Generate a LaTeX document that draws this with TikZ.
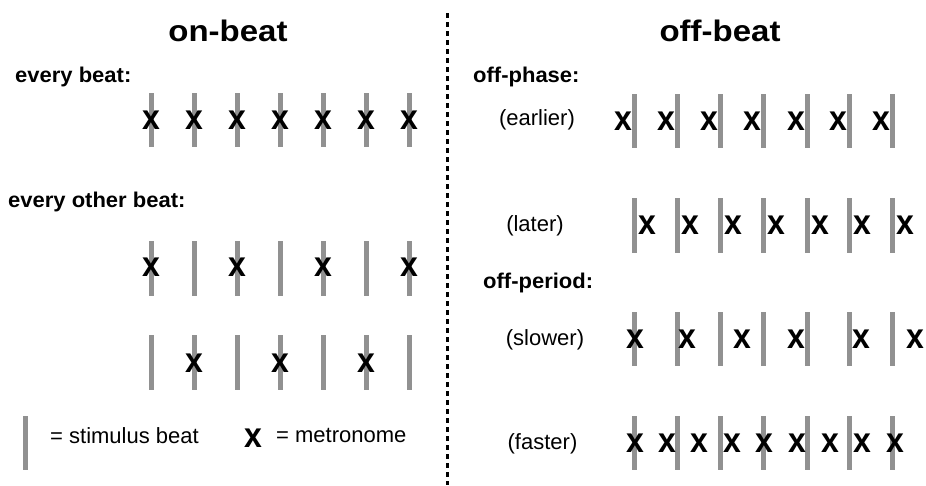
\documentclass[tikz,border=0pt]{standalone}
\usepackage{fontspec}
\setmainfont{Liberation Sans}
\definecolor{bargray}{RGB}{145,145,145}
\tikzset{
  stim/.style={draw=bargray, line width=5pt},
  metro/.style={inner sep=0pt, font=\fontsize{32}{34}\selectfont\bfseries, yscale=1.1},
  bigtitle/.style={inner sep=0pt, font=\fontsize{33}{36}\selectfont\bfseries, yscale=0.9, anchor=base},
  head/.style={inner sep=0pt, font=\fontsize{22}{26}\selectfont\bfseries, yscale=0.97, anchor=base west},
  lab/.style={inner sep=0pt, font=\fontsize{22}{26}\selectfont, anchor=center},
  leg/.style={inner sep=0pt, font=\fontsize{22}{26}\selectfont, anchor=base west},
  divider/.style={draw=black, line width=3pt, dash pattern=on 5pt off 4pt},
}
\begin{document}
\begin{tikzpicture}[x=1pt,y=-1pt]
\useasboundingbox (0,0) rectangle (926,485);

% titles
\node[bigtitle] (ton) at (228,41.5) {on-beat};
\node[bigtitle] (toff) at (720,41.5) {off-beat};

% divider
\coordinate (dtop) at (447,13);
\coordinate (dbot) at (447,485);
\draw[divider] (dtop) -- (dbot);

% headings
\node[head] (h1) at (15,82) {every beat:};
\node[head] (h2) at (8,207) {every other beat:};
\node[head] (h3) at (473,82) {off-phase:};
\node[head] (h4) at (483,288) {off-period:};

% sub labels
\node[lab] (l1) at (537,120) {(earlier)};
\node[lab] (l2) at (535,226) {(later)};
\node[lab] (l3) at (545,340) {(slower)};
\node[lab] (l4) at (542.5,444) {(faster)};

% left rows: stimulus bars
\foreach \bx in {151,194,237,280,323,366,409}{
  \draw[stim] (\bx,93) -- (\bx,147);
  \draw[stim] (\bx,241) -- (\bx,296);
  \draw[stim] (\bx,335) -- (\bx,390);
}
% row 1: every beat
\foreach \mx [count=\i] in {151,194,237,280,323,366,409}{
  \node[metro] (ea\i) at (\mx,120.5) {x};
}
% row 2: every other beat (a)
\foreach \mx [count=\i] in {151,237,323,409}{
  \node[metro] (eb\i) at (\mx,267) {x};
}
% row 3: every other beat (b)
\foreach \mx [count=\i] in {194,280,366}{
  \node[metro] (ec\i) at (\mx,363) {x};
}

% right rows: stimulus bars
\foreach \bx in {634,677,720,763,807,849,892}{
  \draw[stim] (\bx,94) -- (\bx,148);
  \draw[stim] (\bx,198) -- (\bx,253);
  \draw[stim] (\bx,312) -- (\bx,366);
  \draw[stim] (\bx,416) -- (\bx,470);
}
% earlier
\foreach \mx [count=\i] in {623,666,709,752,796,838,881}{
  \node[metro] (oa\i) at (\mx,121.5) {x};
}
% later
\foreach \mx [count=\i] in {647,690,733,776,820,862,905}{
  \node[metro] (ob\i) at (\mx,225) {x};
}
% slower
\foreach \mx [count=\i] in {635,687,742,796,861,915}{
  \node[metro] (oc\i) at (\mx,339) {x};
}
% faster
\foreach \mx [count=\i] in {635,667,699,732,764,797,830,862,895}{
  \node[metro] (od\i) at (\mx,443) {x};
}

% legend
\draw[stim] (25,416) -- (25,470);
\node[leg] (lgs) at (50,443) {= stimulus beat};
\node[metro] (lgx) at (253,438) {x};
\node[leg] (lgm) at (276,442) {= metronome};
\end{tikzpicture}
\end{document}
